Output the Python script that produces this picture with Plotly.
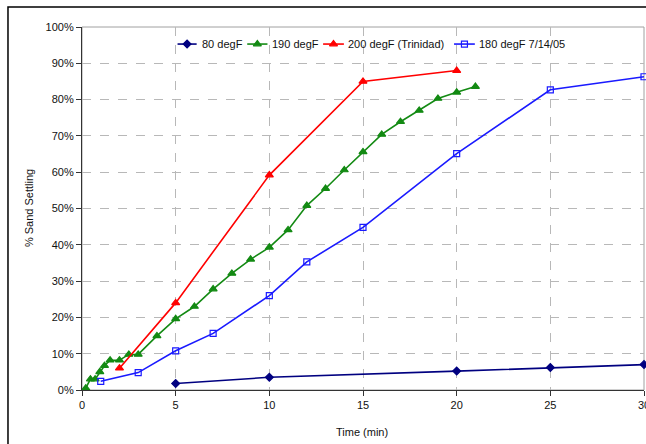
import plotly.graph_objects as go

# Sand settling tests: time (min) vs. % of sand settled
t_80 = [5, 10, 20, 25, 30]
s_80 = [1.8, 3.5, 5.2, 6.2, 7.0]

t_190 = [0.2, 0.45, 0.7, 0.95, 1.2, 1.5, 2, 2.5, 3, 4, 5, 6, 7, 8, 9, 10,
         11, 12, 13, 14, 15, 16, 17, 18, 19, 20, 21]
s_190 = [0.5, 3.0, 3.0, 5.0, 6.7, 8.2, 8.2, 9.8, 9.8, 14.9, 19.6, 23.0, 27.8,
         32.1, 36.0, 39.3, 44.1, 50.8, 55.5, 60.6, 65.6, 70.4, 73.9, 77.0,
         80.3, 82.0, 83.6]

t_200 = [2, 5, 10, 15, 20]
s_200 = [6.0, 24.0, 59.2, 85.0, 88.0]

t_180 = [1, 3, 5, 7, 10, 12, 15, 20, 25, 30]
s_180 = [2.4, 4.8, 10.8, 15.6, 26.0, 35.3, 44.8, 65.1, 82.7, 86.3]

series_names = ["80 degF", "190 degF", "200 degF (Trinidad)", "180 degF 7/14/05"]

x_ticks = [0, 5, 10, 15, 20, 25, 30]
y_ticks = list(range(0, 101, 10))

# styling per series: colour, marker symbol, marker size
styles = [
    ("#000080", "diamond", 6),
    ("#138a13", "triangle-up", 7),
    ("#ff0000", "triangle-up", 7),
    ("#1a1aff", "square-open", 6),
]
data = [(t_80, s_80), (t_190, s_190), (t_200, s_200), (t_180, s_180)]

# compact legend row drawn inside the plot area (paper units):
# key-line start, key-line end, text start
legend_y = 0.953
legend_slots = [
    (0.170, 0.204, 0.211),
    (0.294, 0.330, 0.337),
    (0.429, 0.466, 0.472),
    (0.662, 0.699, 0.705),
]
legend_box = (0.158, 0.870, 0.925, 0.981)

font_family = "Liberation Sans, Arial, sans-serif"
text_color = "#111111"

fig = go.Figure()
for name, (xs, ys), (color, symbol, size) in zip(series_names, data, styles):
    fig.add_trace(go.Scatter(
        x=xs, y=ys, name=name, mode="lines+markers",
        line=dict(color=color, width=1.6),
        marker=dict(symbol=symbol, size=size, color=color,
                    line=dict(color=color, width=1.2)),
        cliponaxis=False, showlegend=False,
    ))

shapes = [
    # plot-area frame (top and right edges in gray)
    dict(type="rect", xref="paper", yref="paper", x0=0, x1=1, y0=0, y1=1,
         line=dict(color="#a0a0a0", width=1), layer="below"),
    # outer chart frame
    dict(type="rect", xref="paper", yref="paper",
         x0=-0.1317, x1=1.02, y0=-0.2, y1=1.0551,
         line=dict(color="#000000", width=1.5), layer="below"),
    # legend background
    dict(type="rect", xref="paper", yref="paper",
         x0=legend_box[0], x1=legend_box[1], y0=legend_box[2], y1=legend_box[3],
         fillcolor="white", line=dict(width=0), layer="between"),
]

annotations = [
    dict(text="% Sand Settling", xref="paper", yref="paper",
         x=-0.095, y=0.5, textangle=-90, showarrow=False,
         xanchor="center", yanchor="middle",
         font=dict(family=font_family, size=11, color=text_color)),
    dict(text="Time (min)", xref="paper", yref="paper",
         x=0.498, y=-0.115, showarrow=False,
         xanchor="center", yanchor="middle",
         font=dict(family=font_family, size=11, color=text_color)),
    # last x tick label sits on the right edge of the chart
    dict(text=str(x_ticks[-1]), xref="x", yref="paper",
         x=x_ticks[-1], y=0, yshift=-15, showarrow=False,
         xanchor="center", yanchor="middle",
         font=dict(family=font_family, size=11, color=text_color)),
]

# legend keys: short line + marker + label
for name, (color, symbol, size), (x0, x1, xt) in zip(series_names, styles, legend_slots):
    shapes.append(dict(type="line", xref="paper", yref="paper",
                       x0=x0, x1=x1, y0=legend_y, y1=legend_y,
                       line=dict(color=color, width=1.6), layer="above"))
    fig.add_trace(go.Scatter(
        x=[(x0 + x1) / 2], y=[legend_y], xaxis="x2", yaxis="y2",
        mode="markers", showlegend=False, hoverinfo="skip",
        marker=dict(symbol=symbol, size=size, color=color,
                    line=dict(color=color, width=1.2)),
        cliponaxis=False,
    ))
    annotations.append(dict(
        text=name, xref="paper", yref="paper", x=xt, y=legend_y,
        xanchor="left", yanchor="middle", showarrow=False, borderpad=0,
        font=dict(family=font_family, size=11, color=text_color)))

fig.update_layout(
    width=646, height=444,
    margin=dict(l=82, r=2, t=27, b=54),
    paper_bgcolor="white", plot_bgcolor="white",
    font=dict(family=font_family, size=11, color=text_color),
    showlegend=False,
    xaxis=dict(
        range=[0, 30], tickvals=x_ticks, ticktext=[str(v) for v in x_ticks],
        showgrid=True, gridcolor="#b8b8b8", griddash="dash", gridwidth=1,
        showline=True, linecolor="#333333", linewidth=1.2,
        ticks="outside", ticklen=5, tickcolor="#333333",
        zeroline=False, fixedrange=True,
    ),
    yaxis=dict(
        range=[0, 100], tickvals=y_ticks, ticktext=[f"{v}%" for v in y_ticks],
        showgrid=True, gridcolor="#b8b8b8", griddash="dash", gridwidth=1,
        showline=True, linecolor="#333333", linewidth=1.2,
        ticks="outside", ticklen=5, tickcolor="#333333",
        zeroline=False, fixedrange=True,
    ),
    xaxis2=dict(overlaying="x", range=[0, 1], visible=False, fixedrange=True),
    yaxis2=dict(overlaying="y", range=[0, 1], visible=False, fixedrange=True),
    shapes=shapes,
    annotations=annotations,
)

fig.write_html("out.html")
